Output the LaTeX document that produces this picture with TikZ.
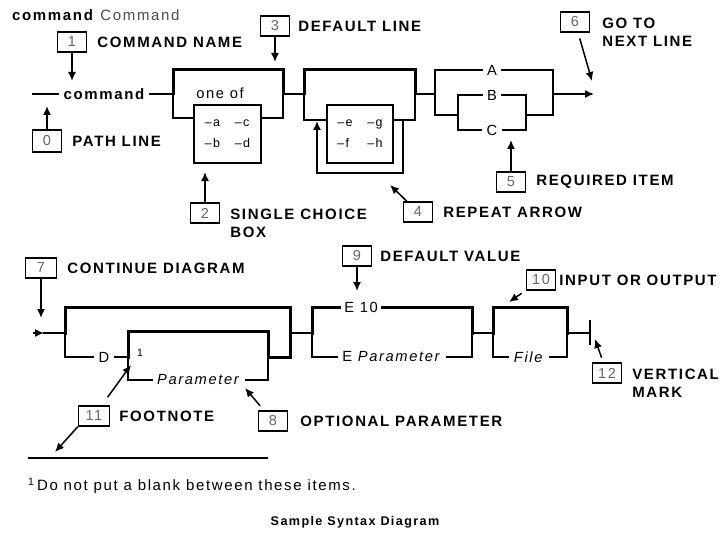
\documentclass[tikz,border=0pt]{standalone}
\usepackage{fontspec}
\setmainfont{Liberation Sans}[LetterSpace=11]
\usetikzlibrary{arrows.meta,positioning}

\begin{document}
\begin{tikzpicture}[x=1pt,y=-1pt,
  num/.style={draw,line width=1.3pt,minimum width=29pt,minimum height=20pt,inner sep=0pt,text=black!60,font=\fontsize{14.5}{15}\selectfont},
  lbl/.style={inner sep=0pt,align=left,font=\fontsize{15}{18}\selectfont\bfseries},
  itm/.style={inner sep=5pt,font=\fontsize{14.7}{16}\selectfont},
  opt/.style={draw,line width=1.3pt,minimum width=67pt,minimum height=58pt,align=left,font=\fontsize{12.5}{21}\selectfont},
  rail/.style={line width=1.5pt,line cap=rect},
  dflt/.style={line width=3pt,line cap=rect},
  arr/.style={-{Latex[length=9pt,width=8pt]},line width=1.5pt},
  node distance=10pt]
  \useasboundingbox (0,0) rectangle (724,535);

  \node[anchor=west,inner sep=0pt,font=\fontsize{15}{16}\selectfont] (hdr) at (12,15) {\textbf{command} \textcolor{black!70}{Command}};

  % callouts, first line
  \node[num] (b1) at (72,42) {1};
  \node[lbl,right=of b1] (l1) {COMMAND NAME};
  \node[num,minimum height=22pt] (b0) at (47,141) {0};
  \node[lbl,right=of b0] (l0) {PATH LINE};
  \node[num] (b3) at (275,26) {3};
  \node[lbl,right=8pt of b3] (l3) {DEFAULT LINE};
  \node[num] (b2) at (205,213) {2};
  \node[lbl,anchor=north west] (l2) at ([xshift=10pt,yshift=4pt]b2.east) {SINGLE CHOICE\\BOX};
  \node[num] (b4) at (418,212) {4};
  \node[lbl,right=of b4] (l4) {REPEAT ARROW};
  \node[num] (b5) at (511,182) {5};
  \node[lbl,right=of b5] (l5) {REQUIRED ITEM};
  \node[num] (b6) at (575,22) {6};
  \node[lbl,anchor=north west] (l6) at ([xshift=12pt,yshift=4pt]b6.east) {GO TO\\NEXT LINE};

  % first line
  \node[itm,font=\fontsize{15}{16}\selectfont\bfseries] (cmd) at (104,94) {command};
  \node[itm] (one) at (220,93) {one of};
  \node[opt] (chc) at (227.5,134) {\makebox[30pt][l]{--a}--c\\\makebox[30pt][l]{--b}--d};
  \node[opt,minimum width=66pt] (rep) at (360,134) {\makebox[30pt][l]{--e}--g\\\makebox[30pt][l]{--f}--h};
  \node[itm] (A) at (492,70) {A};
  \node[itm] (B) at (492,95) {B};
  \node[itm] (C) at (492,130) {C};

  \draw[rail] (33,94) -- (cmd.west);
  \draw[rail] (cmd.east) -- (173,94);
  \draw[dflt] (173,94) -- (173,70) -- (283,70) -- (283,94);
  \draw[rail] (173,94) -- (173,118) -- (chc.west |- 0,118);
  \draw[rail] (chc.east |- 0,118) -- (283,118) -- (283,94) -- (304,94);
  \draw[dflt] (304,94) -- (304,70) -- (415,70) -- (415,94);
  \draw[rail] (304,94) -- (304,120) -- (rep.west |- 0,120);
  \draw[rail] (rep.east |- 0,120) -- (415,120) -- (415,94) -- (435,94);
  \coordinate (r4) at (317,121);
  \draw[rail] (403,120) -- (403,173) -- (317,173) -- (317,135);
  \draw[arr] (317,136) -- (r4);
  \draw[rail] (435,94) -- (435,70) -- (A.west);
  \draw[rail] (A.east) -- (553,70) -- (553,94);
  \draw[rail] (435,94) -- (435,115) -- (458,115);
  \draw[rail] (458,95) -- (B.west);
  \draw[rail] (458,95) -- (458,130) -- (C.west);
  \draw[rail] (B.east) -- (526,95) -- (526,130) -- (C.east);
  \draw[rail] (526,115) -- (553,115) -- (553,94);
  \coordinate (nx) at (594,94);
  \draw[arr] (553,94) -- (nx);

  \coordinate (t1) at (72,81);
  \coordinate (t0) at (47,106);
  \coordinate (t3) at (275,62);
  \coordinate (t2) at (205,172);
  \coordinate (t4) at (390,185);
  \coordinate (t5) at (511,140);
  \coordinate (t6) at (592,81);
  \draw[arr] (b1) -- (t1);
  \draw[arr] (b0) -- (t0);
  \draw[arr] (b3) -- (t3);
  \draw[arr] (b2) -- (t2);
  \draw[arr] (b4) -- (t4);
  \draw[arr] (b5) -- (t5);
  \draw[arr,shorten <=6pt] (b6) -- (t6);

  % callouts, second line
  \node[num,minimum width=31pt] (b7) at (41,268) {7};
  \node[lbl,right=of b7] (l7) {CONTINUE DIAGRAM};
  \node[num] (b9) at (357,256) {9};
  \node[lbl,right=8pt of b9] (l9) {DEFAULT VALUE};
  \node[num] (b10) at (541,280) {10};
  \node[lbl,right=3pt of b10] (l10) {INPUT OR OUTPUT};
  \node[num] (b12) at (607,373) {12};
  \node[lbl,anchor=north west] (l12) at ([xshift=10pt,yshift=4pt]b12.east) {VERTICAL\\MARK};
  \node[num,minimum width=31pt] (b11) at (94,416) {11};
  \node[lbl,right=9pt of b11] (l11) {FOOTNOTE};
  \node[num] (b8) at (273,421) {8};
  \node[lbl,right=12pt of b8] (l8) {OPTIONAL PARAMETER};

  % second line
  \node[itm] (D) at (104,357) {D};
  \node[inner sep=0pt,font=\fontsize{10.5}{12}\selectfont] (one1) at (140,353) {1};
  \node[itm] (par) at (199,380) {\textit{Parameter}};
  \node[itm] (E10) at (361,307) {E 10};
  \node[itm] (EP) at (392,357) {E \textit{Parameter}};
  \node[itm] (fil) at (529,357) {\textit{File}};

  \coordinate (s2) at (33,333);
  \draw[arr] (s2) -- (44,333);
  \draw[rail] (44,333) -- (65,333);
  \draw[dflt] (65,333) -- (65,307) -- (290,307) -- (290,333);
  \draw[rail] (65,333) -- (65,357) -- (D.west);
  \draw[rail] (D.east) -- (128,357);
  \draw[dflt] (128,357) -- (128,331) -- (268,331) -- (268,357) -- (290,357) -- (290,333);
  \draw[rail] (128,357) -- (128,380) -- (par.west);
  \draw[rail] (par.east) -- (268,380) -- (268,357);
  \draw[rail] (290,333) -- (312,333);
  \draw[dflt] (312,333) -- (312,307) -- (E10.west);
  \draw[dflt] (E10.east) -- (472,307) -- (472,333);
  \draw[rail] (312,333) -- (312,357) -- (EP.west);
  \draw[rail] (EP.east) -- (472,357) -- (472,333) -- (493,333);
  \draw[dflt] (493,333) -- (493,307) -- (567,307) -- (567,333);
  \draw[rail] (493,333) -- (493,357) -- (fil.west);
  \draw[rail] (fil.east) -- (567,357) -- (567,333) -- (590,333);
  \draw[line width=2pt] (590,320) -- (590,345);

  \coordinate (t7) at (41,318);
  \coordinate (t9) at (357,291);
  \coordinate (t10) at (509,302);
  \coordinate (t12) at (595,339);
  \coordinate (t11) at (131,365);
  \coordinate (t11b) at (55,452);
  \coordinate (t8) at (245,388);
  \draw[arr] (b7) -- (t7);
  \draw[arr] (b9) -- (t9);
  \draw[arr,shorten <=5pt] (b10) -- (t10);
  \draw[arr,shorten <=5pt] (b12) -- (t12);
  \draw[arr,shorten <=10pt] (b11) -- (t11);
  \draw[arr] (b11.south west) -- (t11b);
  \draw[arr,shorten <=6pt] (b8) -- (t8);

  % footnote
  \draw[line width=1.5pt] (28,458) -- (268,458);
  \node[anchor=west,inner sep=0pt,font=\fontsize{15}{16}\selectfont] (fn) at (28,486) {\textsuperscript{1}\,Do not put a blank between these items.};
  \node[font=\fontsize{12.6}{14}\selectfont\bfseries] (ttl) at (355,522) {Sample Syntax Diagram};
\end{tikzpicture}
\end{document}
